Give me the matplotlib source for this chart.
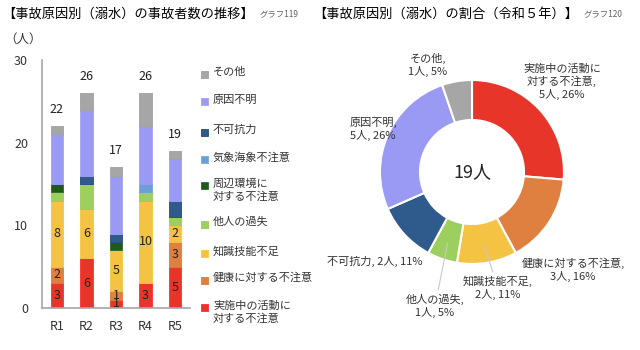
"""
溺水事故の事故原因別グラフ（推移の積み上げ棒 + 令和5年のドーナツ）
"""
import matplotlib
matplotlib.use('Agg')
import matplotlib.pyplot as plt
from matplotlib.patches import Rectangle
import numpy as np

plt.rcParams['font.family'] = ['Noto Sans CJK JP', 'DejaVu Sans']

# ---- data ----
years = ['R1', 'R2', 'R3', 'R4', 'R5']
causes = ['実施中の活動に\n対する不注意', '健康に対する不注意', '知識技能不足',
          '他人の過失', '周辺環境に\n対する不注意', '気象海象不注意',
          '不可抗力', '原因不明', 'その他']
katsudou = [3, 6, 1, 3, 5]
kenkou = [2, 0, 1, 0, 3]
chishiki = [8, 6, 5, 10, 2]
tanin = [1, 3, 0, 1, 1]
shuhen = [1, 0, 1, 0, 0]
kishou = [0, 0, 0, 1, 0]
fukakou = [0, 1, 1, 0, 2]
fumei = [6, 8, 7, 7, 5]
sonota = [1, 2, 1, 4, 1]
series = [katsudou, kenkou, chishiki, tanin, shuhen, kishou, fukakou, fumei, sonota]
labeled = causes[:3]   # only these get numbers inside the bars

colors = ['#E8352A', '#E08040', '#F4C344', '#9DCF5F', '#1F5A1B',
          '#6B9FD8', '#2F5B8C', '#9A9AF4', '#A6A6A6']
edges = ['#FF3030', '#E07A35', '#F6C540', '#9ACB58', '#2E6B2A',
         '#79A8DC', '#24497A', '#A3A3F6', '#A0A0A0']

W, H = 640, 350


def fx(px):
    return px / W


def fy(py):
    return 1 - py / H


fig = plt.figure(figsize=(W / 100, H / 100), dpi=100)

# ---- stacked bars ----
ax = fig.add_axes([fx(42), 1 - 308 / H, 148 / W, 248 / H])
x = np.arange(len(years))
bottom = np.zeros(len(years))
for name, vals, c, e in zip(causes, series, colors, edges):
    vals = np.array(vals)
    bars = ax.bar(x, vals, 0.42, bottom=bottom, color=c, edgecolor=e,
                  linewidth=0.6)
    if name in labeled:
        ax.bar_label(bars, labels=[str(v) if v else '' for v in vals],
                     label_type='center', fontsize=9, color='#222222')
    bottom += vals

for i, tot in enumerate(bottom):
    ax.annotate(str(int(tot)), (x[i], tot), xytext=(0, 12),
                textcoords='offset points', ha='center', va='center',
                fontsize=9, color='#222222')

ax.set_xlim(-0.5, len(years) - 0.5)
ax.set_ylim(0, 30)
ax.set_yticks([0, 10, 20, 30])
ax.set_xticks(x, years)
ax.tick_params(length=0, labelsize=9, colors='#333333')
ax.tick_params(axis='y', pad=10)
ax.tick_params(axis='x', pad=9)
for s in ['top', 'right']:
    ax.spines[s].set_visible(False)
for s in ['left', 'bottom']:
    ax.spines[s].set_color('#A6A6A6')
    ax.spines[s].set_linewidth(1.2)
fig.text(fx(4), fy(39), '（人）', fontsize=9, va='center', color='#333333')

# ---- titles ----
t1 = fig.text(fx(2), fy(14), '【事故原因別（溺水）の事故者数の推移】',
              fontsize=9.5, va='center', ha='left')
t2 = fig.text(fx(313), fy(14), '【事故原因別（溺水）の割合（令和５年）】',
              fontsize=9.5, va='center', ha='left')
for t, s in [(t1, 'グラフ119'), (t2, 'グラフ120')]:
    ax.annotate(s, xy=(1, 0.2), xycoords=t, xytext=(4, 0),
                textcoords='offset points', fontsize=6, color='#606060',
                va='bottom', annotation_clip=False)

# ---- legend (reversed stack order, drawn by hand like the Excel one) ----
leg_y = [74, 102, 132, 160, 185, 224, 253, 280, 307]
for name, c, e, y in zip(causes[::-1], colors[::-1], edges[::-1], leg_y):
    fig.add_artist(Rectangle((fx(201), fy(y + 3.5)), 7 / W, 7 / H,
                             facecolor=c, edgecolor=e, linewidth=0.6,
                             transform=fig.transFigure))
    nl = name.count('\n')
    fig.text(fx(213), fy(y - 2 + nl * 7), name, fontsize=8, va='center',
             ha='left', color='#333333', linespacing=1.25)

# ---- donut (R5) ----
pie_names = [n for n, s in zip(causes, series) if s[-1] > 0]
pie_vals = [s[-1] for s in series if s[-1] > 0]
pie_colors = [c for c, s in zip(colors, series) if s[-1] > 0]
total = sum(pie_vals)

pax = fig.add_axes([fx(372), 1 - 272 / H, 200 / W, 200 / H])
wedges, _ = pax.pie(pie_vals, colors=pie_colors, startangle=90,
                    counterclock=False, radius=0.92,
                    wedgeprops=dict(width=0.40, edgecolor='white',
                                    linewidth=1.5))
pax.set_xlim(-1, 1)
pax.set_ylim(-1, 1)
pax.set_aspect('equal')
pax.axis('off')
pax.text(0, 0, f'{total}人', ha='center', va='center', fontsize=13,
         color='#222222')

# label layout (data units of the donut axes), separator, leader line
lab_pos = {
    '実施中の活動に\n対する不注意': ((0.90, 0.90), ',\n', False),
    '健康に対する不注意': ((1.01, -0.98), ',\n', False),
    '知識技能不足': ((0.26, -1.16), ',\n', True),
    '他人の過失': ((-0.37, -1.34), ',\n', True),
    '不可抗力': ((-0.97, -0.89), ', ', False),
    '原因不明': ((-0.99, 0.43), ',\n', False),
    'その他': ((-0.44, 1.07), ',\n', False),
}
for w, n, v in zip(wedges, pie_names, pie_vals):
    pos, sep, leader = lab_pos[n]
    pct = round(v / total * 100)
    txt = f'{n}{sep}{v}人, {pct}%'
    ang = np.deg2rad((w.theta1 + w.theta2) / 2)
    xy = (0.75 * np.cos(ang), 0.75 * np.sin(ang))
    pax.annotate(txt, xy=xy, xytext=pos, ha='center', va='center',
                 fontsize=8, color='#333333', linespacing=1.2,
                 annotation_clip=False,
                 arrowprops=dict(arrowstyle='-', color='#C8C8C8', lw=0.8,
                                 shrinkA=1, shrinkB=0) if leader else None)

fig.savefig('out.png', dpi=100)
